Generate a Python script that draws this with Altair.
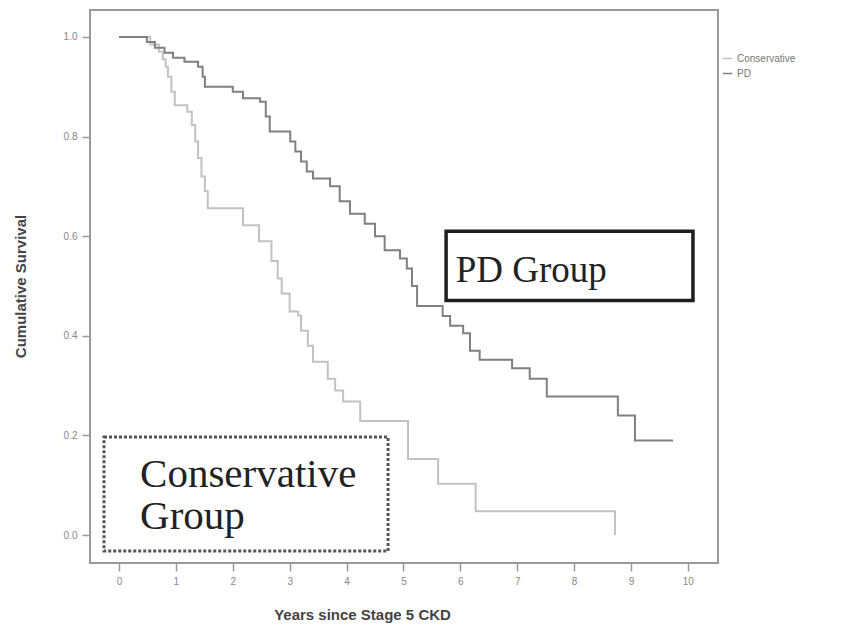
import altair as alt
import pandas as pd

# Kaplan-Meier step points (years, cumulative survival)
pd_years = [0.0, 0.49, 0.63, 0.80, 0.95, 1.15, 1.39, 1.47, 1.51, 2.00, 2.18, 2.48, 2.58, 2.65,
            3.01, 3.10, 3.20, 3.30, 3.41, 3.71, 3.88, 4.06, 4.32, 4.50, 4.67, 4.94, 5.06,
            5.15, 5.24, 5.69, 5.82, 6.05, 6.17, 6.34, 6.91, 7.22, 7.52, 8.77, 9.07, 9.74]
pd_surv = [1.0, 0.99, 0.978, 0.968, 0.958, 0.950, 0.940, 0.92, 0.90, 0.89, 0.877, 0.87, 0.84, 0.81,
           0.79, 0.77, 0.75, 0.73, 0.716, 0.70, 0.67, 0.645, 0.625, 0.60, 0.572, 0.555, 0.535,
           0.50, 0.46, 0.44, 0.42, 0.405, 0.37, 0.352, 0.335, 0.314, 0.278, 0.24, 0.19, 0.19]

cons_years = [0.0, 0.55, 0.70, 0.77, 0.82, 0.86, 0.92, 0.98, 1.20, 1.28, 1.34, 1.39, 1.45, 1.51,
              1.56, 2.18, 2.46, 2.68, 2.79, 2.86, 3.00, 3.15, 3.20, 3.32, 3.41, 3.67, 3.80,
              3.94, 4.24, 5.08, 5.61, 6.27, 8.72]
cons_surv = [1.0, 0.985, 0.97, 0.955, 0.94, 0.92, 0.89, 0.863, 0.85, 0.823, 0.79, 0.757, 0.72, 0.69,
             0.656, 0.622, 0.59, 0.55, 0.515, 0.485, 0.449, 0.441, 0.41, 0.38, 0.348, 0.314, 0.29,
             0.268, 0.229, 0.153, 0.103, 0.048, 0.0]

groups = ["Conservative", "PD"]
x_ticks = [0, 1, 2, 3, 4, 5, 6, 7, 8, 9, 10]
y_ticks = [0.0, 0.2, 0.4, 0.6, 0.8, 1.0]

rows = []
for t, s in zip(cons_years, cons_surv):
    rows.append({"group": "Conservative", "years": t, "surv": s, "order": len(rows)})
for t, s in zip(pd_years, pd_surv):
    rows.append({"group": "PD", "years": t, "surv": s, "order": len(rows)})
df = pd.DataFrame(rows)

xs = alt.Scale(domain=[-0.51, 10.53], nice=False, zero=False)
ys = alt.Scale(domain=[-0.056, 1.054], nice=False, zero=False)

lines = alt.Chart(df).mark_line(interpolate="step-after", strokeWidth=2).encode(
    x=alt.X("years:Q", scale=xs,
            axis=alt.Axis(values=x_ticks, format="d", title="Years since Stage 5 CKD",
                          titleX=272, titleY=44, titleBaseline="top")),
    y=alt.Y("surv:Q", scale=ys,
            axis=alt.Axis(values=y_ticks, format=".1f", title="Cumulative Survival",
                          titleX=-62, titleY=276)),
    color=alt.Color("group:N", scale=alt.Scale(domain=groups, range=["#c2c2c2", "#808080"]),
                    legend=alt.Legend(title=None, orient="none", legendX=632, legendY=43,
                                      symbolType="stroke", symbolSize=90, symbolStrokeWidth=1.5,
                                      labelFontSize=10, labelColor="#777", rowPadding=4,
                                      labelFont="Liberation Sans")),
    detail="group:N",
    order="order:Q",
)

box_df = pd.DataFrame([
    {"name": "PD", "x": 5.75, "x2": 10.09, "y": 0.61, "y2": 0.471},
])
cbox_df = pd.DataFrame([
    {"name": "Conservative", "x": -0.264, "x2": 4.73, "y": 0.197, "y2": -0.032},
])

pd_box = alt.Chart(box_df).mark_rect(fill="white", stroke="#1e1e1e", strokeWidth=3.5).encode(
    x=alt.X("x:Q", scale=xs), x2="x2:Q", y=alt.Y("y:Q", scale=ys), y2="y2:Q")
cons_box = alt.Chart(cbox_df).mark_rect(fill="white", stroke="#555555", strokeWidth=3,
                                        strokeDash=[3, 2]).encode(
    x=alt.X("x:Q", scale=xs), x2="x2:Q", y=alt.Y("y:Q", scale=ys), y2="y2:Q")

txt_df = pd.DataFrame([
    {"label": "PD Group", "x": 5.92, "y": 0.509},
])
ctxt_df = pd.DataFrame([
    {"label": "Conservative", "x": 0.37, "y": 0.0966},
    {"label": "Group", "x": 0.37, "y": 0.012},
])
pd_text = alt.Chart(txt_df).mark_text(align="left", baseline="alphabetic", font="Liberation Serif",
                                      fontSize=37, color="#222").encode(
    x=alt.X("x:Q", scale=xs), y=alt.Y("y:Q", scale=ys), text="label:N")
cons_text = alt.Chart(ctxt_df).mark_text(align="left", baseline="alphabetic", font="Liberation Serif",
                                         fontSize=41, color="#222").encode(
    x=alt.X("x:Q", scale=xs), y=alt.Y("y:Q", scale=ys), text="label:N")

chart = alt.layer(lines, pd_box, cons_box, pd_text, cons_text).properties(
    width=628, height=553,
    autosize=alt.AutoSizeParams(type="none"),
    padding={"left": 90, "top": 10, "right": 138, "bottom": 67},
    background="white",
).configure_view(
    stroke="#9a9a9a", strokeWidth=2
).configure_axis(
    grid=False, domain=False, tickColor="#999", tickSize=8, tickWidth=1.5,
    labelColor="#888", labelFontSize=10, labelFont="Liberation Sans", labelPadding=5,
    titleColor="#444", titleFontSize=15, titleFont="Liberation Sans", titleFontWeight="bold",
)

chart.save("out.html", embed_options={"renderer": "svg", "actions": False})
